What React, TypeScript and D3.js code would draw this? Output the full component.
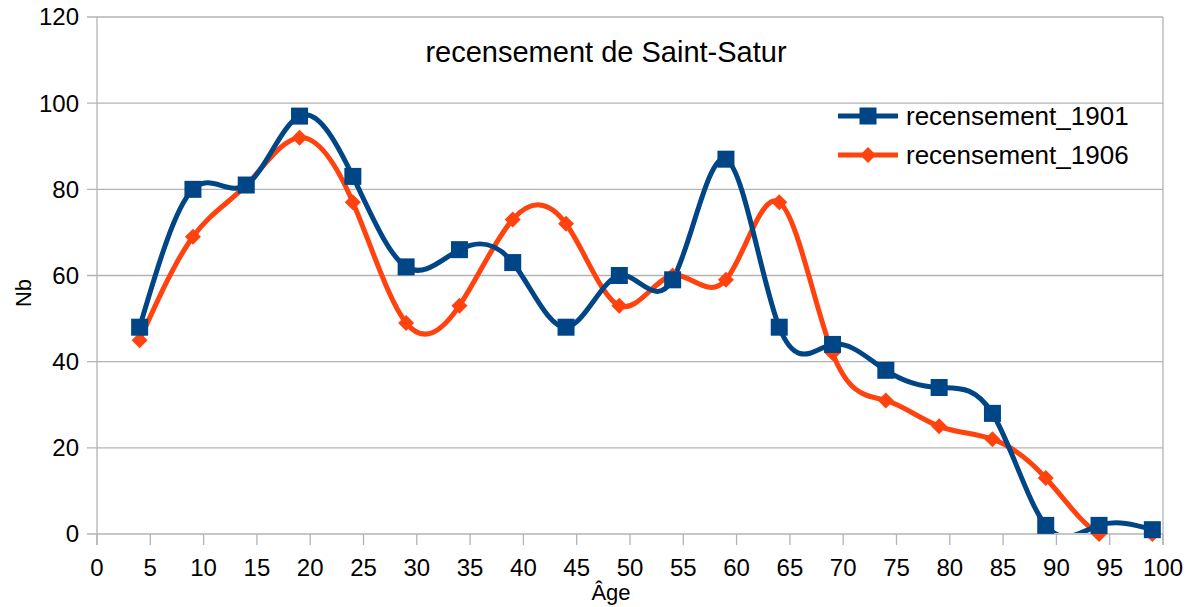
import React from "react";
import * as d3 from "d3";

const ages = [4, 9, 14, 19, 24, 29, 34, 39, 44, 49, 54, 59, 64, 69, 74, 79, 84, 89, 94, 99];
const rec1901 = [48, 80, 81, 97, 83, 62, 66, 63, 48, 60, 59, 87, 48, 44, 38, 34, 28, 2, 2, 1];
const rec1906 = [45, 69, 81, 92, 77, 49, 53, 73, 72, 53, 60, 59, 77, 42, 31, 25, 22, 13, 0, 0];
const xTicks = d3.range(0, 101, 5);
const yTicks = [0, 20, 40, 60, 80, 100, 120];
const seriesNames = ["recensement_1901", "recensement_1906"];

const W = 1194, H = 607;
const L = 97, R = 1163, T = 17, B = 534;
const BLUE = "#004586", ORANGE = "#ff420e";
const FONT = "'Liberation Sans', Arial, sans-serif";

export default function App() {
  const x = d3.scaleLinear().domain([0, 100]).range([L, R]);
  const y = d3.scaleLinear().domain([0, 120]).range([B, T]);
  const line = d3
    .line<number>()
    .x((_, i) => x(ages[i]))
    .y((d) => y(d))
    .curve(d3.curveNatural);

  const square = (cx: number, cy: number, s: number, c: string, k: string) => (
    <rect key={k} x={cx - s / 2} y={cy - s / 2} width={s} height={s} fill={c} />
  );
  const diamond = (cx: number, cy: number, s: number, c: string, k: string) => (
    <path key={k} d={`M${cx},${cy - s / 2}L${cx + s / 2},${cy}L${cx},${cy + s / 2}L${cx - s / 2},${cy}Z`} fill={c} />
  );

  return (
    <svg width={W} height={H} style={{ position: "absolute", left: 0, top: 0, background: "#fff" }} fontFamily={FONT}>
      <defs>
        <clipPath id="plot">
          <rect x={L} y={T} width={R - L} height={B - T - 1} />
        </clipPath>
      </defs>
      {yTicks.map((t) => (
        <g key={"y" + t}>
          <line x1={L - 10} x2={R} y1={y(t)} y2={y(t)} stroke="#b3b3b3" strokeWidth={1.3} />
          <text x={L - 18} y={y(t)} dy="0.35em" textAnchor="end" fontSize={24} fill="#000">{t}</text>
        </g>
      ))}
      <line x1={L} x2={L} y1={T} y2={B + 11} stroke="#b3b3b3" strokeWidth={1.3} />
      <line x1={R} x2={R} y1={T} y2={B + 11} stroke="#b3b3b3" strokeWidth={1.3} />
      {xTicks.map((t) => (
        <g key={"x" + t}>
          <line x1={x(t)} x2={x(t)} y1={B} y2={B + 11} stroke="#b3b3b3" strokeWidth={1.3} />
          <text x={x(t)} y={576} textAnchor="middle" fontSize={24} fill="#000">{t}</text>
        </g>
      ))}
      <g clipPath="url(#plot)" fill="none" strokeWidth={5} strokeLinejoin="round">
        <path d={line(rec1906) || ""} stroke={ORANGE} />
        <path d={line(rec1901) || ""} stroke={BLUE} />
      </g>
      {rec1906.map((v, i) => diamond(x(ages[i]), y(v), 16, ORANGE, "d" + i))}
      {rec1901.map((v, i) => square(x(ages[i]), y(v), 17, BLUE, "s" + i))}
      <text x={606} y={62} textAnchor="middle" fontSize={29} fill="#000">recensement de Saint-Satur</text>
      <text x={611} y={600} textAnchor="middle" fontSize={22} fill="#000">Âge</text>
      <text transform={`translate(31,${293}) rotate(-90)`} textAnchor="middle" fontSize={22} fill="#000">Nb</text>
      <g>
        <line x1={838} x2={898} y1={116} y2={116} stroke={BLUE} strokeWidth={5} />
        {square(868, 116, 17, BLUE, "ls")}
        <text x={906} y={116} dy="0.35em" fontSize={26} fill="#000">{seriesNames[0]}</text>
        <line x1={838} x2={898} y1={155} y2={155} stroke={ORANGE} strokeWidth={5} />
        {diamond(868, 155, 16, ORANGE, "ld")}
        <text x={906} y={155} dy="0.35em" fontSize={26} fill="#000">{seriesNames[1]}</text>
      </g>
    </svg>
  );
}
